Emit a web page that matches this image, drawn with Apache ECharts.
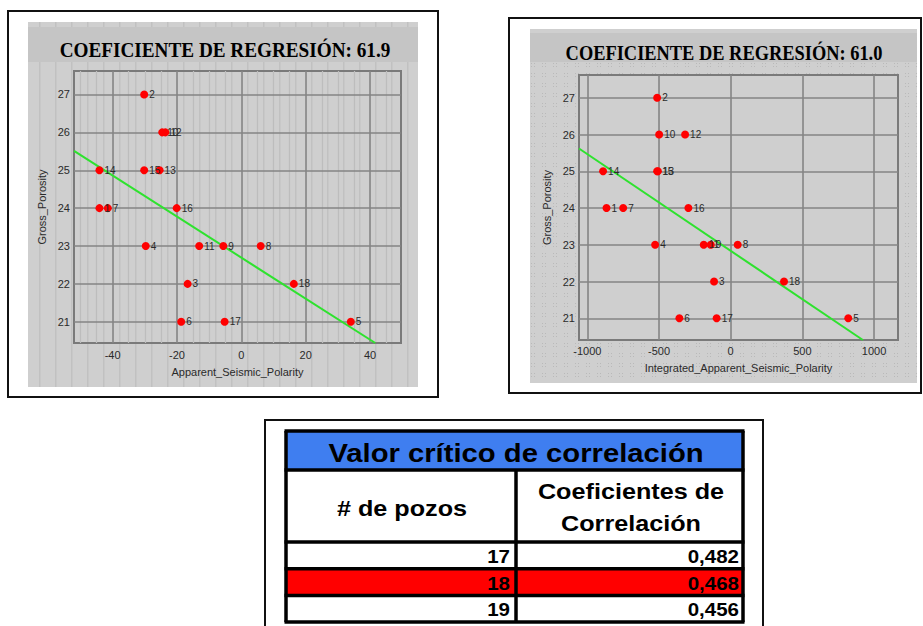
<!DOCTYPE html>
<html>
<head>
<meta charset="utf-8">
<script src="https://cdn.jsdelivr.net/npm/echarts@6/dist/echarts.min.js"></script>
<style>
  html, body { margin: 0; padding: 0; background: #ffffff; }
  #main { width: 923px; height: 626px; }
</style>
</head>
<body>
<div id="main"></div>
<script>
// Well numbers and their gross porosity
const wellIds = ['1','2','3','4','5','6','7','8','9','10','11','12','13','14','15','16','17','18'];
const grossPorosity = [24, 27, 22, 23, 21, 21, 24, 23, 23, 26, 23, 26, 25, 25, 25, 24, 21, 22];

// Seismic attributes per well
const apparentPolarity = [-44.1, -30.2, -16.7, -29.7, 34.0, -18.7, -41.5, 6.0, -5.6, -24.6, -13.1, -23.6, -25.4, -44.1, -30.2, -20.1, -5.2, 16.3];
const integratedPolarity = [-866, -513, -116, -527, 820, -358, -750, 49, -139, -499, -188, -318, -508, -890, -513, -295, -98, 372];

// Fitted regression lines (end points)
const fit1X = [-52, 41.6];
const fit1Y = [25.51, 20.44];
const fit2X = [-1058, 922];
const fit2Y = [25.62, 20.41];

// Regression coefficients shown in the panel headers
const regressionCoef = ['61.9', '61.0'];

// Axis tick values
const yTicks = [21, 22, 23, 24, 25, 26, 27];
const x1Ticks = [-40, -20, 0, 20, 40];
const x1Minor = [-50, -45, -35, -30, -25, -15, -10, -5, 5, 10, 15, 25, 30, 35, 45];
const x2Ticks = [-1000, -500, 0, 500, 1000];

// Critical correlation table
const tableTitle = 'Valor crítico de correlación';
const colHeaders = ['# de pozos', 'Coeficientes de\nCorrelación'];
const wellCounts = ['17', '18', '19'];
const criticalValues = ['0,482', '0,468', '0,456'];
const highlightRow = 1;

const chart = echarts.init(document.getElementById('main'), null, { renderer: 'svg' });

// Small tiles used as background textures of the two panels
function stripeTile() {
  const c = document.createElement('canvas');
  c.width = 16; c.height = 4;
  const g = c.getContext('2d');
  g.fillStyle = '#cfcfcf'; g.fillRect(0, 0, 16, 4);
  g.fillStyle = '#c1c1c1'; g.fillRect(7, 0, 1.5, 4);
  return c;
}
function dotTile() {
  const c = document.createElement('canvas');
  c.width = 11; c.height = 10;
  const g = c.getContext('2d');
  g.fillStyle = '#cfcfcf'; g.fillRect(0, 0, 11, 10);
  g.fillStyle = '#b9b9b9';
  [[3, 3], [6, 3], [3, 6], [6, 6]].forEach(p => g.fillRect(p[0], p[1], 1, 1));
  return c;
}

const axisFont = { fontFamily: 'Liberation Sans, Arial, sans-serif', fontSize: 11, color: '#2a2a2a' };
const splitMajor = { show: true, lineStyle: { color: '#858585', width: 1.6 } };
const plainNumber = v => String(v);

function pairs(xs, ys) {
  return xs.map((x, i) => ({ value: [x, ys[i]], name: wellIds[i] }));
}
function linePts(xs, ys) {
  return xs.map((x, i) => [x, ys[i]]);
}

function scatterSeries(xi, yi, data) {
  return {
    type: 'scatter', xAxisIndex: xi, yAxisIndex: yi, data: data,
    symbolSize: 8, itemStyle: { color: '#ff0000', opacity: 1 }, z: 5,
    label: {
      show: true, position: 'right', distance: 1, formatter: '{b}',
      fontFamily: 'Liberation Sans, Arial, sans-serif', fontSize: 10, color: '#2a2a2a'
    },
    emphasis: { disabled: true }, silent: true
  };
}
function fitSeries(xi, yi, data) {
  return {
    type: 'line', xAxisIndex: xi, yAxisIndex: yi, data: data,
    showSymbol: false, z: 3, silent: true,
    lineStyle: { color: '#2ee22e', width: 2 }
  };
}

// Table graphics
const tbl = { left: 286, right: 743, top: 431, mid: 516, head1: 470, head2: 542, rowH: 26.7 };
const tableEls = [];
tableEls.push({ type: 'rect', shape: { x: 265, y: 420, width: 498, height: 230 },
  style: { fill: '#ffffff', stroke: '#111', lineWidth: 2 } });
tableEls.push({ type: 'rect', shape: { x: tbl.left, y: tbl.top, width: tbl.right - tbl.left, height: tbl.head1 - tbl.top },
  style: { fill: '#3f7ef0' } });
const tableBottom = tbl.head2 + tbl.rowH * wellCounts.length;
tableEls.push({ type: 'rect', shape: { x: tbl.left, y: tbl.head2 + tbl.rowH * highlightRow, width: tbl.right - tbl.left, height: tbl.rowH },
  style: { fill: '#ff0000' } });
// rules of the table
[tbl.top, tbl.head1, tbl.head2].concat(wellCounts.map((_, i) => tbl.head2 + tbl.rowH * (i + 1))).forEach(y => {
  tableEls.push({ type: 'line', shape: { x1: tbl.left - 1.5, y1: y, x2: tbl.right + 1.5, y2: y },
    style: { stroke: '#000', lineWidth: 3.5 } });
});
tableEls.push({ type: 'line', shape: { x1: tbl.left, y1: tbl.top, x2: tbl.left, y2: tableBottom }, style: { stroke: '#000', lineWidth: 3.5 } });
tableEls.push({ type: 'line', shape: { x1: tbl.right, y1: tbl.top, x2: tbl.right, y2: tableBottom }, style: { stroke: '#000', lineWidth: 3.5 } });
tableEls.push({ type: 'line', shape: { x1: tbl.mid, y1: tbl.head1, x2: tbl.mid, y2: tableBottom }, style: { stroke: '#000', lineWidth: 3.5 } });

function sans(px) { return 'bold ' + px + 'px "Liberation Sans", Arial, sans-serif'; }

tableEls.push({ type: 'text', x: 516, y: 453, scaleX: 1.17, z: 10,
  style: { text: tableTitle, font: sans(25), fill: '#000', align: 'center', verticalAlign: 'middle' } });
tableEls.push({ type: 'text', x: 402, y: 508, scaleX: 1.12, z: 10,
  style: { text: colHeaders[0], font: sans(22.5), fill: '#000', align: 'center', verticalAlign: 'middle' } });
tableEls.push({ type: 'text', x: 631, y: 507, scaleX: 1.12, z: 10,
  style: { text: colHeaders[1], font: sans(22.5), lineHeight: 32, fill: '#000', align: 'center', verticalAlign: 'middle' } });
wellCounts.forEach((n, i) => {
  const cy = tbl.head2 + tbl.rowH * i + tbl.rowH / 2 + 1;
  tableEls.push({ type: 'text', x: 510, y: cy, scaleX: 1.08, z: 10,
    style: { text: n, font: sans(19), fill: '#000', align: 'right', verticalAlign: 'middle' } });
  tableEls.push({ type: 'text', x: 739, y: cy, scaleX: 1.08, z: 10,
    style: { text: criticalValues[i], font: sans(19), fill: '#000', align: 'right', verticalAlign: 'middle' } });
});

// Panel frames, textured backgrounds and header bands
const serifBold = 'bold 21px "Liberation Serif", "Times New Roman", serif';
const stripes = stripeTile();
const dots = dotTile();
const panelEls = [
  { type: 'rect', z: -10, shape: { x: 28, y: 22, width: 390, height: 365 },
    style: { fill: { image: stripes, repeat: 'repeat', imageWidth: 16, imageHeight: 4 } } },
  { type: 'rect', z: -9, shape: { x: 28, y: 27, width: 390, height: 35 }, style: { fill: '#c5c5c5' } },
  { type: 'rect', z: -8, shape: { x: 8, y: 11, width: 430, height: 386 }, style: { fill: 'none', stroke: '#111', lineWidth: 2 } },
  { type: 'text', x: 225, y: 50, scaleX: 0.915, z: 10,
    style: { text: 'COEFICIENTE DE REGRESIÓN: ' + regressionCoef[0], font: serifBold, fill: '#000', align: 'center', verticalAlign: 'middle' } },

  { type: 'rect', z: -10, shape: { x: 530, y: 29, width: 387, height: 354 },
    style: { fill: { image: dots, repeat: 'repeat', imageWidth: 11, imageHeight: 10 } } },
  { type: 'rect', z: -9, shape: { x: 579, y: 75, width: 319, height: 265 }, style: { fill: '#cfcfcf' } },
  { type: 'rect', z: -9, shape: { x: 530, y: 33, width: 387, height: 29 }, style: { fill: '#c5c5c5' } },
  { type: 'rect', z: -8, shape: { x: 509, y: 18, width: 412, height: 375 }, style: { fill: 'none', stroke: '#111', lineWidth: 2 } },
  { type: 'text', x: 724, y: 53, scaleX: 0.876, z: 10,
    style: { text: 'COEFICIENTE DE REGRESIÓN: ' + regressionCoef[1], font: serifBold, fill: '#000', align: 'center', verticalAlign: 'middle' } }
];

const option = {
  animation: false,
  backgroundColor: '#ffffff',
  grid: [
    { left: 74, top: 71, width: 327, height: 272, show: true, borderColor: '#7a7a7a', borderWidth: 2, backgroundColor: 'transparent' },
    { left: 579, top: 75, width: 319, height: 265, show: true, borderColor: '#7a7a7a', borderWidth: 2, backgroundColor: 'transparent' }
  ],
  xAxis: [
    { type: 'value', gridIndex: 0, min: -52, max: 49.6, z: 2,
      name: 'Apparent_Seismic_Polarity', nameLocation: 'middle', nameGap: 23, nameTextStyle: axisFont,
      axisLine: { show: false }, axisTick: { show: false, customValues: x1Ticks },
      axisLabel: Object.assign({ customValues: x1Ticks, margin: 6, formatter: plainNumber }, axisFont), splitLine: splitMajor },
    { type: 'value', gridIndex: 0, min: -52, max: 49.6, z: 1,
      axisLine: { show: false }, axisTick: { show: false, customValues: x1Minor },
      axisLabel: { show: false }, splitLine: { show: true, lineStyle: { color: '#bdbdbd', width: 1.2 } } },
    { type: 'value', gridIndex: 1, min: -1058, max: 1167, z: 2,
      name: 'Integrated_Apparent_Seismic_Polarity', nameLocation: 'middle', nameGap: 22, nameTextStyle: axisFont,
      axisLine: { show: false }, axisTick: { show: false, customValues: x2Ticks },
      axisLabel: Object.assign({ customValues: x2Ticks, margin: 5, formatter: plainNumber }, axisFont), splitLine: splitMajor }
  ],
  yAxis: [
    { type: 'value', gridIndex: 0, min: 20.44, max: 27.62, z: 2,
      name: 'Gross_Porosity', nameLocation: 'middle', nameGap: 27, nameTextStyle: axisFont,
      axisLine: { show: false }, axisTick: { show: false, customValues: yTicks },
      axisLabel: Object.assign({ customValues: yTicks, margin: 4, formatter: plainNumber }, axisFont), splitLine: splitMajor },
    { type: 'value', gridIndex: 1, min: 20.41, max: 27.62, z: 2,
      name: 'Gross_Porosity', nameLocation: 'middle', nameGap: 27, nameTextStyle: axisFont,
      axisLine: { show: false }, axisTick: { show: false, customValues: yTicks },
      axisLabel: Object.assign({ customValues: yTicks, margin: 4, formatter: plainNumber }, axisFont), splitLine: splitMajor }
  ],
  series: [
    fitSeries(0, 0, linePts(fit1X, fit1Y)),
    scatterSeries(0, 0, pairs(apparentPolarity, grossPorosity)),
    fitSeries(2, 1, linePts(fit2X, fit2Y)),
    scatterSeries(2, 1, pairs(integratedPolarity, grossPorosity))
  ],
  graphic: { elements: panelEls.concat(tableEls) }
};

chart.setOption(option);
</script>
</body>
</html>
